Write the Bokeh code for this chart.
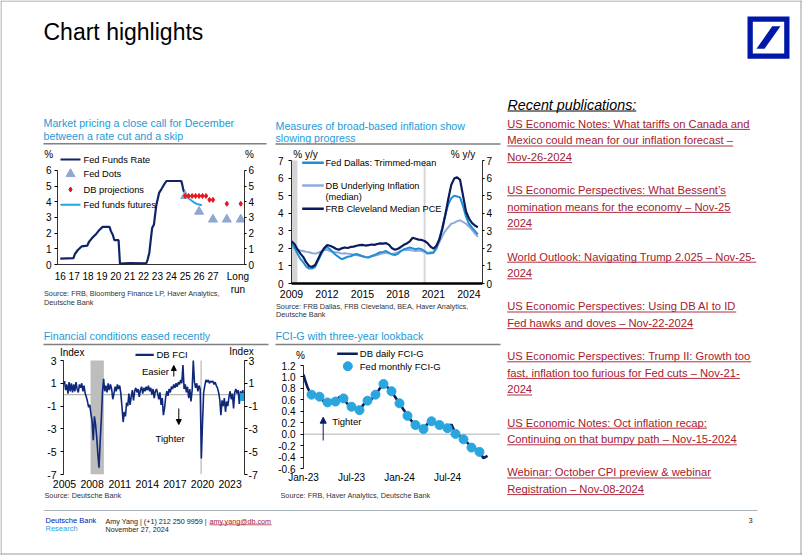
import numpy as np
from bokeh.plotting import figure
from bokeh.layouts import column
from bokeh.models import (Range1d, LinearAxis, FixedTicker, Label, Arrow, NormalHead,
                          Span, NumeralTickFormatter)
from bokeh.embed import file_html
from bokeh.resources import INLINE

FONT = "Liberation Sans"

# ======================= DATA =======================
# --- Chart 1: Market pricing a close call ---
ffr_dates = [2016.0, 2016.95, 2017.05, 2017.25, 2017.55, 2017.95, 2018.05, 2018.3, 2018.55, 2018.8,
             2019.05, 2019.55, 2019.65, 2019.78, 2019.9, 2020.2, 2020.3, 2021.0, 2022.2, 2022.3,
             2022.42, 2022.52, 2022.62, 2022.75, 2022.82, 2022.92, 2023.0, 2023.12, 2023.3, 2023.45,
             2023.65, 2024.72, 2024.78, 2024.85, 2024.92]
ffr_values = [0.37, 0.41, 0.66, 0.91, 1.16, 1.20, 1.42, 1.70, 1.91, 2.19,
              2.40, 2.40, 2.13, 1.90, 1.55, 1.55, 0.05, 0.09, 0.08, 0.33,
              0.77, 1.58, 2.33, 2.56, 3.08, 3.78, 4.10, 4.57, 4.83, 5.06,
              5.33, 5.33, 5.13, 4.83, 4.64]
futures_dates = [2024.92, 2025.0, 2025.17, 2025.33, 2025.5, 2025.67, 2025.83, 2026.0, 2026.2]
futures_values = [4.64, 4.50, 4.30, 4.16, 4.05, 3.95, 3.87, 3.83, 3.78]
fed_dots_x = [2025, 2026, 2027, 2028, 2029]
fed_dots_values = [4.375, 3.375, 2.875, 2.875, 2.875]
db_proj_x = [2025.0, 2025.25, 2025.5, 2025.75, 2026.0, 2026.25, 2026.5, 2026.75, 2027.0, 2028.0, 2029.0]
db_proj_values = [4.375, 4.375, 4.375, 4.375, 4.375, 4.375, 4.375, 4.125, 4.125, 3.875, 3.875]
c1_xticks = [2016, 2017, 2018, 2019, 2020, 2021, 2022, 2023, 2024, 2025, 2026, 2027, 2028.8]
c1_xlabels = ["16", "17", "18", "19", "20", "21", "22", "23", "24", "25", "26", "27", "Long\nrun"]
c1_yticks = [0, 1, 2, 3, 4, 5, 6]

# --- Chart 2: broad-based inflation (quarterly, from 2009Q1) ---
infl_dates = [2009 + q / 4 for q in range(64)]
cleveland_median_pce = [2.40, 2.25, 1.95, 1.70, 1.50, 1.20, 0.98, 0.95, 1.05, 1.40, 1.75, 2.00,
                        2.18, 2.15, 2.08, 1.98, 1.92, 2.00, 2.05, 2.02, 2.08, 2.10, 2.15, 2.18,
                        2.20, 2.16, 2.18, 2.22, 2.20, 2.25, 2.28, 2.27, 2.30, 2.20, 2.00, 1.92,
                        1.98, 2.08, 2.20, 2.28, 2.40, 2.60, 2.55, 2.50, 2.48, 2.42, 2.30, 2.10,
                        1.98, 2.15, 2.50, 3.10, 3.90, 4.80, 5.60, 5.97, 6.05, 5.90, 5.00, 4.10,
                        3.70, 3.45, 3.30, 3.20]
dallas_trimmed_mean = [2.30, 2.05, 1.70, 1.40, 1.20, 0.95, 0.85, 0.85, 0.95, 1.30, 1.65, 1.95,
                       2.08, 1.95, 1.78, 1.62, 1.50, 1.38, 1.45, 1.52, 1.55, 1.62, 1.68, 1.62,
                       1.55, 1.50, 1.48, 1.55, 1.62, 1.70, 1.78, 1.80, 1.85, 1.75, 1.65, 1.62,
                       1.70, 1.85, 1.95, 2.00, 2.05, 2.00, 1.95, 2.00, 1.95, 1.85, 1.70, 1.72,
                       1.75, 2.00, 2.55, 3.20, 3.90, 4.50, 4.85, 5.00, 4.95, 4.90, 4.40, 3.80,
                       3.40, 3.20, 3.00, 2.80]
db_underlying_median = [2.10, 2.00, 1.92, 1.88, 1.85, 1.80, 1.78, 1.72, 1.70, 1.75, 1.82, 1.90,
                        1.92, 1.85, 1.80, 1.78, 1.75, 1.70, 1.72, 1.70, 1.68, 1.65, 1.62, 1.58,
                        1.55, 1.52, 1.50, 1.55, 1.58, 1.62, 1.68, 1.72, 1.75, 1.70, 1.68, 1.72,
                        1.78, 1.85, 1.90, 1.92, 1.90, 1.88, 1.85, 1.88, 1.85, 1.80, 1.75, 1.78,
                        1.80, 2.00, 2.35, 2.70, 3.00, 3.20, 3.40, 3.45, 3.55, 3.60, 3.50, 3.40,
                        3.25, 3.05, 2.85, 2.65]
c2_rec_start = [2009.0, 2020.17]
c2_rec_end = [2009.5, 2020.33]
c2_xticks = [2009, 2012, 2015, 2018, 2021, 2024]
c2_yticks = [0, 1, 2, 3, 4, 5, 6, 7]

# --- Chart 3: DB FCI (8 readings per year from 2005) ---
fci_values = [1.2, 0.4, 0.9, 0.1, 1.1, 0.3, 1.0, 0.2,
              0.9, 0.3, 1.1, 0.5, 0.2, 0.9, 0.6, 1.0,
              0.3, 0.8, 0.1, -0.2, -0.6, -1.1, -0.9, -1.7,
              -2.3, -4.0, -1.9, -2.6, -3.7, -5.2, -6.4, -4.1,
              -2.2, 0.2, 1.4, 0.3, 0.8, 0.2, 1.0, 0.4,
              0.9, 0.5, -0.4, 0.1, 0.7, 0.3, 0.9, 0.5,
              0.8, 0.1, -1.1, -2.4, -1.5, -1.9, -0.7, -1.0,
              0.1, -0.9, -0.2, 0.4, -0.5, 0.3, 0.6, 0.2,
              0.5, -0.2, 0.4, 0.7, 0.1, 0.6, 0.3, 0.7,
              0.4, 0.8, 0.3, 0.6, 0.0, 0.5, -0.3, 0.3,
              0.5, 0.1, -0.4, 0.2, -0.9, -0.3, -1.8, -1.2,
              -0.2, 0.3, -0.1, 0.5, 0.2, 0.7, 0.5, 0.9,
              0.6, 1.0, 0.7, 1.1, 0.9, 1.3, 1.0, 2.6,
              0.5, 0.9, 0.2, 0.7, -0.3, 0.5, -0.6, 0.4,
              3.0, 1.1, 0.6, 1.0, 0.3, 0.8, 0.5, -5.6,
              -2.5, 0.2, 0.8, 1.3, 1.1, 1.3, 1.0, 1.2,
              1.1, 1.2, 0.9, 1.1, 0.8, 0.6, 0.2, -0.4,
              -1.8, -0.5, -1.0, -0.3, -1.5, -0.6, -1.0, -0.2,
              0.3, -0.4, 0.1, -1.2, 0.2, 0.5, 0.1, 0.4,
              -0.8, 0.3, -0.2, 0.4, -0.2]
fci_dates = [2005 + k / 8 for k in range(len(fci_values))]
c3_rec_start = [2007.83, 2019.78]
c3_rec_end = [2009.28, 2019.92]
c3_xticks = [2005, 2008, 2011, 2014, 2017, 2020, 2023]
c3_yticks = [-7, -5, -3, -1, 1, 3]
c3_ylabels = ["-7", "-5", "-3", "-1", "1", "3"]

# --- Chart 4: FCI-G (months since Jan-2023) ---
fcig_months = [0, 0.25, 0.5, 0.75, 1, 1.5, 2, 2.5, 3, 3.5, 4, 4.5, 5, 5.5, 6, 6.5, 7, 7.5, 8, 8.5,
               9, 9.5, 10, 10.5, 11, 11.5, 12, 12.5, 13, 13.5, 14, 14.5, 15, 15.5, 16, 16.5, 17,
               17.5, 18, 18.5, 19, 19.5, 20, 20.5, 21, 21.5, 22, 22.5, 23]
fcig_daily = [1.04, 0.92, 0.82, 0.74, 0.69, 0.68, 0.65, 0.58, 0.55, 0.57, 0.57, 0.65, 0.62, 0.53,
              0.48, 0.46, 0.42, 0.52, 0.58, 0.61, 0.69, 0.79, 0.87, 0.82, 0.75, 0.64, 0.54, 0.43,
              0.33, 0.23, 0.16, 0.13, 0.09, 0.18, 0.22, 0.19, 0.16, 0.13, 0.10, 0.17, 0.01, -0.03,
              -0.09, -0.15, -0.23, -0.26, -0.31, -0.42, -0.38]
fed_fcig_months = list(range(1, 23))
fed_fcig_monthly = [0.69, 0.655, 0.555, 0.57, 0.625, 0.48, 0.42, 0.585, 0.69, 0.877, 0.75, 0.54,
                    0.32, 0.16, 0.09, 0.225, 0.16, 0.105, 0.005, -0.09, -0.235, -0.31]
c4_xticks = [0, 6, 12, 18]
c4_xlabels = ["Jan-23", "Jul-23", "Jan-24", "Jul-24"]
c4_yticks = [-0.6, -0.4, -0.2, 0.0, 0.2, 0.4, 0.6, 0.8, 1.0, 1.2]

# --- Right column ---
publications = [
    ["US Economic Notes: What tariffs on Canada and", "Mexico could mean for our inflation forecast –", "Nov-26-2024"],
    ["US Economic Perspectives: What Bessent’s", "nomination means for the economy – Nov-25", "2024"],
    ["World Outlook: Navigating Trump 2.025 – Nov-25-", "2024"],
    ["US Economic Perspectives: Using DB AI to ID", "Fed hawks and doves – Nov-22-2024"],
    ["US Economic Perspectives: Trump II: Growth too", "fast, inflation too furious for Fed cuts – Nov-21-", "2024"],
    ["US Economic Notes: Oct inflation recap:", "Continuing on that bumpy path – Nov-15-2024"],
    ["Webinar: October CPI preview & webinar", "Registration – Nov-08-2024"],
]

# ======================= STYLE =======================
TITLE_C = "#1d9ad6"
RULE_C = "#808080"
BORDER_C = "#9a9a9a"
LINK_C = "#a6192e"
DB_BLUE = "#0018a8"
SRC_C = "#333333"

# Arial / Liberation Sans advance widths (1/1000 em) for underline lengths
_W = {}
for ch in "ijl’": _W[ch] = 222
for ch in " !,./:;I[]\\ft": _W[ch] = 278
for ch in "r()-`": _W[ch] = 333
for ch in "ckvxyzsJ": _W[ch] = 500
for ch in "0123456789abdeghnopqu$#?_–L": _W[ch] = 556
for ch in "FTZ": _W[ch] = 611
for ch in "ABEKPSVXY&": _W[ch] = 667
for ch in "CDHNRUw": _W[ch] = 722
for ch in "GOQ": _W[ch] = 778
for ch in "Mm": _W[ch] = 833
_W.update({"W": 944, "@": 1015, "+": 584, "<": 584, "=": 584, ">": 584, "%": 889, "|": 260, "'": 191, "*": 389})


def text_width(s, size):
    return sum(_W.get(c, 556) for c in s) * size / 1000.0


def no_align(p):
    if "frame_align" in p.properties():
        p.frame_align = False


def make_block(ox, oy, w, h, fl, fr, ft, fb, xr, yr):
    p = figure(width=w, height=h, x_range=Range1d(*xr), y_range=Range1d(*yr),
               x_axis_type=None, y_axis_type=None, toolbar_location=None,
               output_backend="svg", min_border_left=fl - ox, min_border_right=ox + w - fr,
               min_border_top=ft - oy, min_border_bottom=oy + h - fb,
               outline_line_color=None, background_fill_color=None, border_fill_color=None)
    p.styles = {"position": "absolute", "left": f"{ox}px", "top": f"{oy}px"}
    no_align(p)

    def X(px):
        return xr[0] + (px - fl) * (xr[1] - xr[0]) / (fr - fl)

    def Y(py):
        return yr[1] - (py - ft) * (yr[1] - yr[0]) / (fb - ft)
    return p, X, Y


def label(p, x, y, text, size, color="black", align="left", style="normal"):
    p.add_layout(Label(x=x, y=y, text=text, text_font=FONT, text_font_size=f"{size}px",
                       text_color=color, text_align=align, text_baseline="middle",
                       text_font_style=style))


def style_axis(ax, size="10px", tick_out=3, standoff=3, line=True, ticks=True, lw=0.8):
    ax.axis_line_color = "black" if line else None
    ax.axis_line_width = lw
    ax.major_tick_line_color = "black" if ticks else None
    ax.major_tick_out = tick_out
    ax.major_tick_in = 0
    ax.minor_tick_line_color = None
    ax.major_label_text_font = FONT
    ax.major_label_text_font_size = size
    ax.major_label_text_color = "black"
    ax.major_label_standoff = standoff


# ======================= BACKGROUND PAGE (page pixel coordinates) =======================
bg = figure(width=802, height=555, x_range=Range1d(0, 802), y_range=Range1d(555, 0),
            x_axis_type=None, y_axis_type=None, toolbar_location=None, output_backend="svg",
            min_border=0, outline_line_color=None, background_fill_color="white",
            border_fill_color="white")
no_align(bg)
bg.segment([0, 0.5, 800.5, 0], [0.5, 0, 0, 553.5], [802, 0.5, 800.5, 802], [0.5, 555, 555, 553.5],
           line_color=BORDER_C, line_width=1)
label(bg, 43, 31, "Chart highlights", 23)
bg.quad(left=[747], right=[789], top=[16], bottom=[58.3], fill_color=DB_BLUE, line_color=None)
bg.quad(left=[752.3], right=[783.7], top=[21.3], bottom=[53], fill_color="white", line_color=None)
bg.patch([756, 764, 780, 771.7], [48.3, 48.3, 25.7, 25.7], fill_color=DB_BLUE, line_color=None)

for x, y, t in ((43, 122.5, "Market pricing a close call for December"),
                (43, 135, "between a rate cut and a skip"),
                (275, 125, "Measures of broad-based inflation show"),
                (275, 137, "slowing progress"),
                (43.3, 335, "Financial conditions eased recently"),
                (275, 335, "FCI-G with three-year lookback")):
    label(bg, x, y, t, 10.7, TITLE_C)
bg.segment([43, 275, 43, 275], [143.3, 143.5, 344, 344], [266, 500, 268, 500], [143.3, 143.5, 344, 344],
           line_color=RULE_C, line_width=1.5)
for x, y, t in ((48.3, 153.5, "%"), (249, 153.5, "%"), (305, 153.5, "% y/y"), (462.5, 153.5, "% y/y"),
                (71.7, 352.3, "Index"), (241, 351, "Index"), (300, 355, "%")):
    label(bg, x, y, t, 10, align="center")
for x, y, t in ((43.5, 293.3, "Source: FRB, Bloomberg Finance LP, Haver Analytics,"),
                (43.5, 302, "Deutsche Bank"),
                (275.5, 305.5, "Source: FRB Dallas, FRB Cleveland, BEA, Haver Analytics,"),
                (275.5, 313.5, "Deutsche Bank"),
                (44, 494.5, "Source: Deutsche Bank"),
                (280, 495, "Source: FRB, Haver Analytics, Deutsche Bank")):
    label(bg, x, y, t, 7.3, SRC_C)

label(bg, 507, 104.5, "Recent publications:", 14.3, style="italic")
bg.segment([507], [110.5], [507 + text_width("Recent publications:", 14.3)], [110.5], line_color="black", line_width=1)
ux0, uy0, ux1 = [], [], []
line_no = 0
for para in publications:
    for txt in para:
        yc = 123.3 + 16.6 * line_no
        label(bg, 506.7, yc, txt, 11.2, LINK_C)
        ux0.append(506.7); ux1.append(506.7 + text_width(txt, 11.2)); uy0.append(yc + 5.6)
        line_no += 1
    line_no += 1
bg.segment(ux0, uy0, ux1, uy0, line_color=LINK_C, line_width=0.9)

bg.segment([43.5], [510], [757], [510], line_color="#a8b0b8", line_width=1)
label(bg, 45, 519.5, "Deutsche Bank", 7.5, DB_BLUE)
label(bg, 45, 527.5, "Research", 7.5, "#2aa3dc")
prefix = "Amy Yang | (+1) 212 250 9959 | "
label(bg, 105, 520.5, prefix, 7.2, "#222222")
ex = 105 + text_width(prefix, 7.2)
label(bg, ex, 520.5, "amy.yang@db.com", 7.2, LINK_C)
bg.segment([ex], [524.3], [ex + text_width("amy.yang@db.com", 7.2)], [524.3], line_color=LINK_C, line_width=0.7)
label(bg, 105, 528.5, "November 27, 2024", 7.2, "#222222")
label(bg, 748, 520, "3", 7.5, "#222222")

# ======================= CHART 1 =======================
p1, X1, Y1 = make_block(0, 90, 270, 228, 57, 244, 150, 264, (2015.8, 2015.8 + 187 / 13.88), (0, 114 / 15.67))
p1.line(ffr_dates, ffr_values, line_color="#0f2468", line_width=2.2)
p1.line(futures_dates, futures_values, line_color="#22a7e0", line_width=2)
p1.scatter(fed_dots_x, fed_dots_values, marker="triangle", size=9, fill_color="#8fa8cf", line_color="#8fa8cf")
p1.scatter(db_proj_x, db_proj_values, marker="diamond", size=5, fill_color="#e8141d", line_color="#e8141d")
for side, out, so in (("left", 3, 3), ("right", 2, 2)):
    ax = LinearAxis(ticker=FixedTicker(ticks=c1_yticks), bounds=(0, 6))
    style_axis(ax, tick_out=out, standoff=so)
    p1.add_layout(ax, side)
axb = LinearAxis(ticker=FixedTicker(ticks=c1_xticks),
                 major_label_overrides={t: l for t, l in zip(c1_xticks, c1_xlabels)})
style_axis(axb, tick_out=0, standoff=6, ticks=False)
p1.add_layout(axb, "below")
p1.line([X1(60), X1(80)], [Y1(159), Y1(159)], line_color="#0f2468", line_width=2.2)
p1.scatter([X1(70)], [Y1(173.5)], marker="triangle", size=9, fill_color="#8fa8cf", line_color="#8fa8cf")
p1.scatter([X1(70)], [Y1(189)], marker="diamond", size=5, fill_color="#e8141d", line_color="#e8141d")
p1.line([X1(60), X1(80)], [Y1(204.3), Y1(204.3)], line_color="#22a7e0", line_width=2)
for ty, tx in ((159, "Fed Funds Rate"), (173.5, "Fed Dots"), (189, "DB projections"), (204.3, "Fed funds futures")):
    label(p1, X1(83), Y1(ty), tx, 9.3)

# ======================= CHART 2 =======================
p2, X2, Y2 = make_block(270, 90, 230, 228, 291, 482, 150, 283, (2009.0, 2009.0 + 191 / 11.83), (0, 133 / 17.57))
p2.quad(left=c2_rec_start, right=c2_rec_end, bottom=0, top=7, fill_color="#d4d4d4", line_color=None)
p2.line(infl_dates, db_underlying_median, line_color="#8eaadc", line_width=2)
p2.line(infl_dates, dallas_trimmed_mean, line_color="#1f8fd3", line_width=2)
p2.line(infl_dates, cleveland_median_pce, line_color="#0a1a5c", line_width=2.2)
for side, out, so in (("left", 3, 5), ("right", 2, 2)):
    ax = LinearAxis(ticker=FixedTicker(ticks=c2_yticks), bounds=(0, 7))
    style_axis(ax, tick_out=out, standoff=so)
    p2.add_layout(ax, side)
axb = LinearAxis(ticker=FixedTicker(ticks=c2_xticks))
style_axis(axb, size="10.5px", tick_out=0, standoff=6, ticks=False, lw=2.5)
p2.add_layout(axb, "below")
p2.line([X2(301.7), X2(323.3)], [Y2(162.3)] * 2, line_color="#1f8fd3", line_width=2.5)
p2.line([X2(301.7), X2(323.3)], [Y2(185)] * 2, line_color="#8eaadc", line_width=2.5)
p2.line([X2(301.7), X2(323.3)], [Y2(208.3)] * 2, line_color="#0a1a5c", line_width=2.5)
label(p2, X2(325), Y2(162.3), "Fed Dallas: Trimmed-mean", 9.2)
label(p2, X2(325), Y2(185), "DB Underlying Inflation", 9.2)
label(p2, X2(325), Y2(196.3), "(median)", 9.2)
label(p2, X2(325), Y2(208.3), "FRB Cleveland Median PCE", 9.2)

# ======================= CHART 3 =======================
x3_0 = 2005 - 1 / 9.2
p3, X3, Y3 = make_block(0, 318, 270, 187, 63, 244, 345, 474, (x3_0, x3_0 + 181 / 9.2), (-7, 3 + 15 / 11.4))
p3.add_layout(Span(location=0, dimension="width", line_color="#a6a6a6", line_width=1, level="underlay"))
p3.quad(left=c3_rec_start, right=c3_rec_end, bottom=-7, top=3, fill_color="#bdbdbd", line_color=None)
p3.line(fci_dates, fci_values, line_color="#10287a", line_width=1.6)
p3.scatter([fci_dates[-1]], [fci_values[-1]], marker="square", size=7, fill_color="#1aa7e0", line_color="#1aa7e0")
for side, out, so in (("left", 3, 4), ("right", 3, 1)):
    ax = LinearAxis(ticker=FixedTicker(ticks=c3_yticks), bounds=(-7, 3),
                    major_label_overrides={t: l for t, l in zip(c3_yticks, c3_ylabels)})
    style_axis(ax, size="10.5px", tick_out=out, standoff=so)
    p3.add_layout(ax, side)
axb = LinearAxis(ticker=FixedTicker(ticks=c3_xticks))
style_axis(axb, size="10.5px", tick_out=0, standoff=5, line=False, ticks=False)
p3.add_layout(axb, "below")
p3.line([X3(135), X3(153.3)], [Y3(354.3)] * 2, line_color="#10287a", line_width=2.2)
label(p3, X3(156), Y3(354.3), "DB FCI", 9.5)
label(p3, X3(141.5), Y3(370.7), "Easier", 9.5)
p3.add_layout(Arrow(end=NormalHead(size=5, fill_color="black", line_color="black"),
                    x_start=X3(173.3), y_start=Y3(376), x_end=X3(173.3), y_end=Y3(365),
                    line_color="black", line_width=1))
label(p3, X3(155), Y3(437.7), "Tighter", 9.5)
p3.add_layout(Arrow(end=NormalHead(size=5, fill_color="black", line_color="black"),
                    x_start=X3(178.3), y_start=Y3(408), x_end=X3(178.3), y_end=Y3(424),
                    line_color="black", line_width=1))

# ======================= CHART 4 =======================
p4, X4, Y4 = make_block(270, 318, 230, 187, 303, 500, 345, 468, (0, 197 / 8), (-0.6, 1.2 + 20 / 57.2))
p4.add_layout(Span(location=0, dimension="width", line_color="#b0b0b0", line_width=1, level="underlay"))
p4.line(fcig_months, fcig_daily, line_color="#0b1f60", line_width=2.6)
p4.scatter(fed_fcig_months, fed_fcig_monthly, marker="circle", size=9, fill_color="#2aa6df", line_color="#2aa6df")
ax = LinearAxis(ticker=FixedTicker(ticks=c4_yticks), bounds=(-0.6, 1.2),
                formatter=NumeralTickFormatter(format="0.0"))
style_axis(ax, tick_out=3, standoff=5)
p4.add_layout(ax, "left")
axb = LinearAxis(ticker=FixedTicker(ticks=c4_xticks),
                 major_label_overrides={t: l for t, l in zip(c4_xticks, c4_xlabels)})
style_axis(axb, tick_out=0, standoff=3, line=False, ticks=False)
p4.add_layout(axb, "below")
p4.line([X4(336.7), X4(357.3)], [Y4(353.3)] * 2, line_color="#0b1f60", line_width=2.6)
p4.scatter([X4(347.3)], [Y4(365.7)], marker="circle", size=9, fill_color="#2aa6df", line_color="#2aa6df")
label(p4, X4(359.3), Y4(353.3), "DB daily FCI-G", 9.5)
label(p4, X4(359.3), Y4(365.7), "Fed monthly FCI-G", 9.5)
label(p4, X4(331.7), Y4(420.7), "Tighter", 9.5)
p4.add_layout(Arrow(end=NormalHead(size=6, fill_color="#0b1f60", line_color="#0b1f60"),
                    x_start=X4(322.7), y_start=Y4(440), x_end=X4(322.7), y_end=Y4(416.7),
                    line_color="#0b1f60", line_width=1))

# the page canvas is in flow; the four charts sit on top of it at absolute offsets
layout = column(bg, p1, p2, p3, p4, styles={"position": "relative"})
open("out.html", "w").write(file_html(layout, INLINE))
